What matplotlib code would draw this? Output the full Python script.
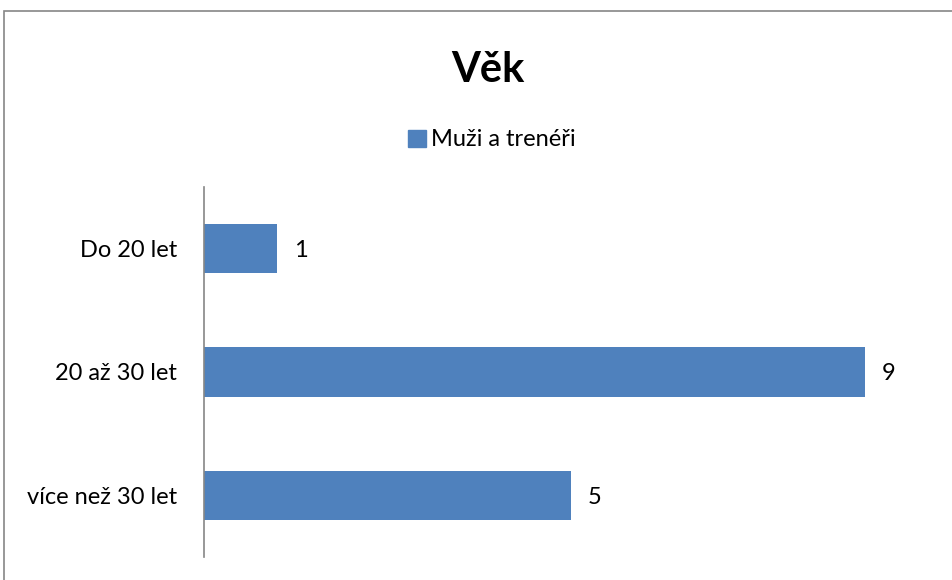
import matplotlib.pyplot as plt
from matplotlib.patches import Rectangle, Patch

plt.rcParams['font.family'] = ['Lato', 'DejaVu Sans']

categories = ["Do 20 let", "20 až 30 let", "více než 30 let"]
values = [1, 9, 5]
series_name = "Muži a trenéři"
title = "Věk"
bar_color = "#4F81BD"

fig = plt.figure(figsize=(9.53, 5.80), dpi=100)

# outer chart border (cut off at right and bottom like the source)
fig.patches.append(Rectangle((4 / 953, -0.1), 1.2, (569 + 58) / 580,
                             transform=fig.transFigure, fill=False,
                             edgecolor="#868686", linewidth=1.2))

ax = fig.add_axes([204 / 953, 23 / 580, 734 / 953, 370 / 580])
ypos = list(range(len(categories)))
ax.barh(ypos, values, height=0.4, color=bar_color)
ax.set_xlim(0, 10)
ax.set_ylim(len(categories) - 0.5, -0.5)
ax.set_yticks(ypos)
ax.set_yticklabels(categories, fontsize=17, va="center_baseline")
ax.tick_params(axis='y', length=0, pad=19.5)
ax.set_xticks([])
for s in ["top", "right", "bottom"]:
    ax.spines[s].set_visible(False)
ax.spines["left"].set_color("#868686")
ax.spines["left"].set_linewidth(1.2)

for y, v in zip(ypos, values):
    ax.annotate(str(v), (v, y), xytext=(12, 0), textcoords="offset points",
                va="center_baseline", ha="left", fontsize=17)

fig.text(488 / 953, 1 - 70 / 580, title, ha="center", va="center",
         fontsize=30, fontweight="bold")
fig.legend(handles=[Patch(color=bar_color, label=series_name)],
           loc="center", bbox_to_anchor=(492 / 953, 1 - 140 / 580),
           frameon=False, fontsize=17, handlelength=0.75, handleheight=0.75,
           handletextpad=0.2)

fig.savefig("out.png", dpi=100)
